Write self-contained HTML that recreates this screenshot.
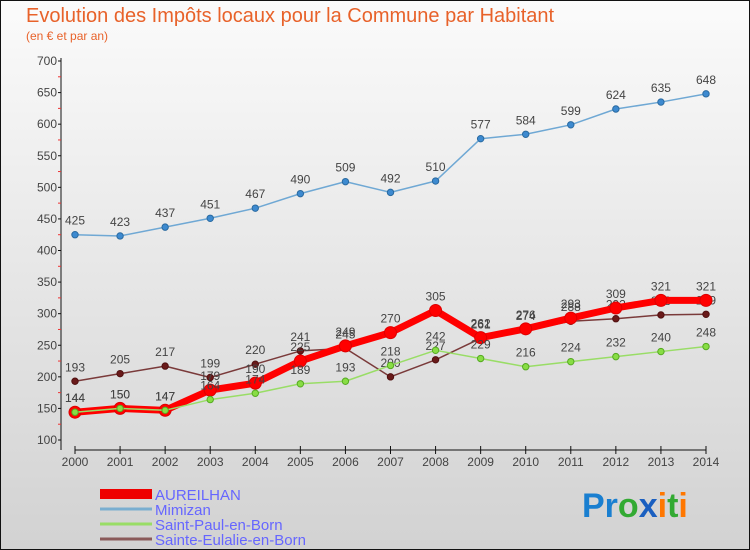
<!DOCTYPE html>
<html><head><meta charset="utf-8"><style>
body{margin:0}
#wrap{width:750px;height:550px;position:relative;overflow:hidden;background:linear-gradient(#fbfbfb,#d2d2d2);font-family:"Liberation Sans",sans-serif}
</style></head><body>
<div id="wrap">
<svg id="svg" width="750" height="550">
<rect x="0.5" y="0.5" width="749" height="549" fill="none" stroke="#111"/>
<text x="26" y="22" font-size="20" fill="#e8622a">Evolution des Impôts locaux pour la Commune par Habitant</text>
<text x="26" y="40" font-size="12" fill="#e8622a">(en € et par an)</text>
<g id="axes"></g><g id="series"></g>
<g id="legend"></g>
<g font-size="34" font-weight="bold">
<text x="582" y="517"><tspan fill="#1a7fd0">Pr</tspan><tspan fill="#3a3">o</tspan><tspan fill="#1a5fc0">x</tspan><tspan fill="#f70">i</tspan><tspan fill="#3a3">t</tspan><tspan fill="#f70">i</tspan></text>
</g>
</svg></div>
<script>
const years=["2000","2001","2002","2003","2004","2005","2006","2007","2008","2009","2010","2011","2012","2013","2014"];
const yTicks=[100,150,200,250,300,350,400,450,500,550,600,650,700];
const aureilhan=[144,150,147,179,190,225,249,270,305,262,276,293,309,321,321];
const mimizan=[425,423,437,451,467,490,509,492,510,577,584,599,624,635,648];
const saintPaul=[144,150,147,164,174,189,193,218,242,229,216,224,232,240,248];
const sainteEulalie=[193,205,217,199,220,241,245,200,227,261,274,288,292,298,299];
const NS="http://www.w3.org/2000/svg";
const X=i=>75+i*(706-75)/14;
const Y=v=>440-(v-100)*379/600;
function mk(t,a,p){const e=document.createElementNS(NS,t);for(const k in a)e.setAttribute(k,a[k]);p.appendChild(e);return e;}
const ax=document.getElementById('axes');
let l=mk('line',{x1:61,y1:58,x2:61,y2:450,stroke:'#111'},ax);


l=mk('line',{x1:75,y1:450,x2:706,y2:450,stroke:'#111'},ax);


yTicks.forEach((v,i)=>{
 const t=mk('text',{x:57,y:Y(v)+4,'font-size':12,fill:'#444','text-anchor':'end'},ax);t.textContent=v;
 
 
 mk('line',{x1:58,y1:Y(v),x2:61,y2:Y(v),stroke:'#111'},ax);
 if(i<yTicks.length-1)mk('line',{x1:58,y1:Y(v+25),x2:61,y2:Y(v+25),stroke:'#e33'},ax);
});
years.forEach((y,i)=>{
 mk('line',{x1:X(i),y1:446,x2:X(i),y2:454,stroke:'#111'},ax);
 const t=mk('text',{x:X(i),y:466,'font-size':12,fill:'#444','text-anchor':'middle'},ax);t.textContent=y;
 
 
});
const sg=document.getElementById('series');
function series(data,name,color,w,r,dot,stroke){
 const g=mk('g',{},sg);
 
 
 mk('polyline',{points:data.map((v,i)=>X(i)+','+Y(v)).join(' '),fill:'none',stroke:color,'stroke-width':w,'stroke-linejoin':'round'},g);
 data.forEach((v,i)=>{
  const c=mk('circle',{cx:X(i),cy:Y(v),r:r,fill:dot,stroke:stroke,'stroke-width':1},g);
  
  
  const t=mk('text',{x:X(i),y:Y(v)-10,'font-size':12,fill:'#444','text-anchor':'middle'},g);t.textContent=v;
  
  
 });
}
series(mimizan,'mimizan','#6fa8d4',1.5,3.2,'#3d8ad0','#2a6aa0');
series(sainteEulalie,'sainte-eulalie','#7a3a3a',1.5,3.2,'#6a1a1a','#501010');
series(aureilhan,'aureilhan','#f00',7,6,'#f00','#d00');
series(saintPaul,'saint-paul','#9d6',1.5,3.2,'#8d4','#5a2');
const lg=document.getElementById('legend');
const leg=[['AUREILHAN','#e00',10,'aureilhan'],['Mimizan','#7aaed0',3,'mimizan'],['Saint-Paul-en-Born','#9d6',3,'saint-paul'],['Sainte-Eulalie-en-Born','#8a5a5a',3,'sainte-eulalie']];
leg.forEach((d,i)=>{
 const yy=494+i*15;
 const r=mk('rect',{x:100,y:yy-d[2]/2,width:52,height:d[2],fill:d[1]},lg);
 
 
 const t=mk('text',{x:155,y:yy+6,'font-size':15,fill:'#66f'},lg);t.textContent=d[0];
 
 
});
</script>
</body></html>
